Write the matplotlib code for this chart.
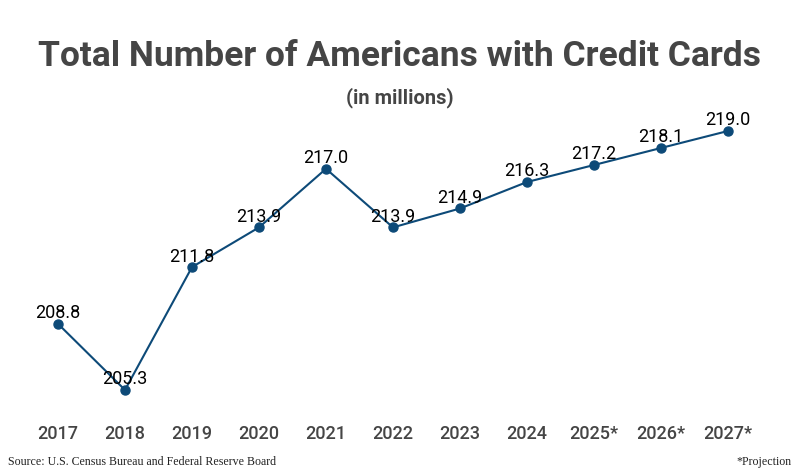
import matplotlib
matplotlib.use("Agg")
import matplotlib.pyplot as plt
import numpy as np

years = ["2017", "2018", "2019", "2020", "2021", "2022", "2023", "2024", "2025*", "2026*", "2027*"]
values = [208.8, 205.3, 211.8, 213.9, 217.0, 213.9, 214.9, 216.3, 217.2, 218.1, 219.0]

plt.rcParams["font.family"] = ["Roboto", "DejaVu Sans"]

line_color = "#0d4a78"
gray = "#454545"

fig = plt.figure(figsize=(8, 4.75), dpi=100)
ax = fig.add_axes([25/800, 1 - 410/475, 735/800, 300/475])

x = np.arange(len(years))
ax.plot(x, values, color=line_color, linewidth=1.5, marker="o", markersize=6.5, zorder=2)

for i, v in enumerate(values):
    ax.annotate(f"{v:.1f}", (i, v), xytext=(0, 4), textcoords="offset points",
                ha="center", va="baseline", fontsize=13, color="black", zorder=3)

ax.set_xlim(-0.4925, 10.478)
ax.set_ylim(204.24, 220.11)
ax.set_xticks(x)
ax.set_xticklabels(years, fontsize=13, color=gray, fontweight="medium")
ax.tick_params(axis="x", length=0, pad=11)
ax.set_yticks([])
for s in ax.spines.values():
    s.set_visible(False)

fig.text(0.5, 1 - 56/475, "Total Number of Americans with Credit Cards",
         ha="center", va="center", fontsize=25.5, fontweight="bold", color=gray)
fig.text(0.5, 1 - 98/475, "(in millions)", ha="center", va="center",
         fontsize=14.5, fontweight="bold", color=gray)
fig.text(8/800, 1 - 462/475, "Source: U.S. Census Bureau and Federal Reserve Board",
         ha="left", va="center", fontsize=8.6, family="Liberation Serif", color="#222222")
fig.text(792/800, 1 - 462/475, "*Projection", ha="right", va="center",
         fontsize=8.6, family="Liberation Serif", color="#222222")

fig.savefig("out.png", dpi=100)
